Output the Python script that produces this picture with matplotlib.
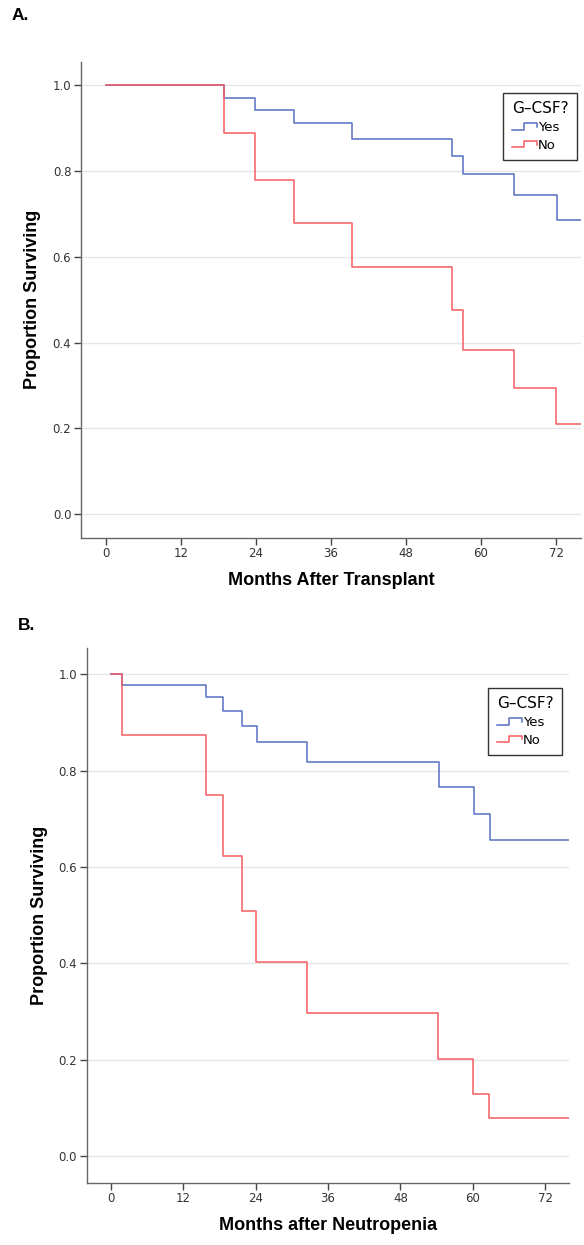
import matplotlib
matplotlib.use("Agg")
import matplotlib.pyplot as plt
from matplotlib.legend_handler import HandlerLine2D
from matplotlib.lines import Line2D

# Panel A: months after transplant (Kaplan-Meier steps)
a_yes_t = [0, 18.9, 23.8, 30.1, 39.3, 55.4, 57.1, 65.3, 72.2, 76]
a_yes_s = [1.0, 0.970, 0.942, 0.911, 0.875, 0.836, 0.793, 0.743, 0.685, 0.685]
a_no_t = [0, 18.9, 23.8, 30.1, 39.3, 55.4, 57.1, 65.3, 72.0, 76]
a_no_s = [1.0, 0.888, 0.779, 0.678, 0.577, 0.477, 0.382, 0.294, 0.209, 0.209]

# Panel B: months after neutropenia
b_yes_t = [0, 1.9, 15.8, 18.6, 21.8, 24.2, 32.6, 54.4, 60.2, 62.9, 76]
b_yes_s = [1.0, 0.977, 0.952, 0.924, 0.893, 0.859, 0.817, 0.767, 0.711, 0.657, 0.657]
b_no_t = [0, 1.9, 15.8, 18.6, 21.8, 24.1, 32.5, 54.3, 60.1, 62.7, 76]
b_no_s = [1.0, 0.875, 0.749, 0.624, 0.509, 0.403, 0.298, 0.202, 0.130, 0.080, 0.080]

group_labels = ["Yes", "No"]
x_ticks = [0, 12, 24, 36, 48, 60, 72]
y_ticks = [0.0, 0.2, 0.4, 0.6, 0.8, 1.0]

BLUE = "#5670c4"
RED = "#f45c62"
TICK_FONT = "DejaVu Sans"
LABEL_FONT = "Liberation Sans"


class StepHandler(HandlerLine2D):
    # little step-shaped legend key, like SPSS draws it
    def create_artists(self, legend, orig_handle, xdescent, ydescent,
                       width, height, fontsize, trans):
        x0 = -xdescent
        y0 = -ydescent
        xs = [x0, x0 + width * 0.5, x0 + width * 0.5, x0 + width, x0 + width]
        ys = [y0 + height * 0.15, y0 + height * 0.15, y0 + height * 0.85,
              y0 + height * 0.85, y0 + height * 0.45]
        ln = Line2D(xs, ys, color=orig_handle.get_color(),
                    lw=orig_handle.get_linewidth(), transform=trans)
        return [ln]


def km_panel(ax, yes_t, yes_s, no_t, no_s, xlabel, leg_anchor, ylab_x):
    for y in y_ticks:
        ax.axhline(y, color="#e6e6e6", lw=1.0, zorder=0)
    h1, = ax.step(yes_t, yes_s, where="post", color=BLUE, lw=1.1,
                  label=group_labels[0])
    h2, = ax.step(no_t, no_s, where="post", color=RED, lw=1.1,
                  label=group_labels[1])

    ax.set_xlim(-4, 76)
    ax.set_ylim(-0.055, 1.054)
    ax.set_xticks(x_ticks)
    ax.set_yticks(y_ticks)
    ax.set_yticklabels(["%.1f" % v for v in y_ticks])
    for s in ["top", "right"]:
        ax.spines[s].set_visible(False)
    for s in ["left", "bottom"]:
        ax.spines[s].set_color("#666666")
        ax.spines[s].set_linewidth(1.0)
    ax.tick_params(direction="out", length=5, width=1.0, color="#444444",
                   labelsize=8.5, labelcolor="#333333", pad=2)
    for lab in ax.get_xticklabels() + ax.get_yticklabels():
        lab.set_family(TICK_FONT)

    ax.set_xlabel(xlabel, family=LABEL_FONT, weight="bold", fontsize=13,
                  labelpad=8)
    ax.set_ylabel("Proportion Surviving", family=LABEL_FONT, weight="bold",
                  fontsize=13)
    ax.yaxis.set_label_coords(ylab_x, 0.5)

    leg = ax.legend(handles=[h1, h2], title="G\u2013CSF?", loc="upper right",
                    bbox_to_anchor=leg_anchor, borderaxespad=0,
                    fancybox=False, edgecolor="#333333", framealpha=1.0,
                    prop={"family": TICK_FONT, "size": 9.5},
                    title_fontproperties={"family": TICK_FONT, "size": 11},
                    handlelength=1.9, handletextpad=0.1, labelspacing=0.35,
                    borderpad=0.65, handler_map={Line2D: StepHandler()})
    leg.get_frame().set_linewidth(1.0)
    leg._legend_box.align = "left"
    leg.get_title().set_ha("center")
    return leg


fig = plt.figure(figsize=(5.84, 12.45), dpi=100)

ax_a = fig.add_axes([0.1387, 0.5681, 0.8562, 0.3821])
km_panel(ax_a, a_yes_t, a_yes_s, a_no_t, a_no_s,
         "Months After Transplant", (0.992, 0.935), -0.079)

ax_b = fig.add_axes([0.1485, 0.05, 0.8263, 0.4293])
km_panel(ax_b, b_yes_t, b_yes_s, b_no_t, b_no_s,
         "Months after Neutropenia", (0.985, 0.926), -0.081)

fig.text(11.5 / 584, 1 - 15.5 / 1245, "A.", family=LABEL_FONT,
         weight="bold", fontsize=12.5, va="center", ha="left")
fig.text(18 / 584, 1 - 626 / 1245, "B.", family=LABEL_FONT,
         weight="bold", fontsize=12.5, va="center", ha="left")

fig.savefig("out.png", dpi=100, facecolor="white")
